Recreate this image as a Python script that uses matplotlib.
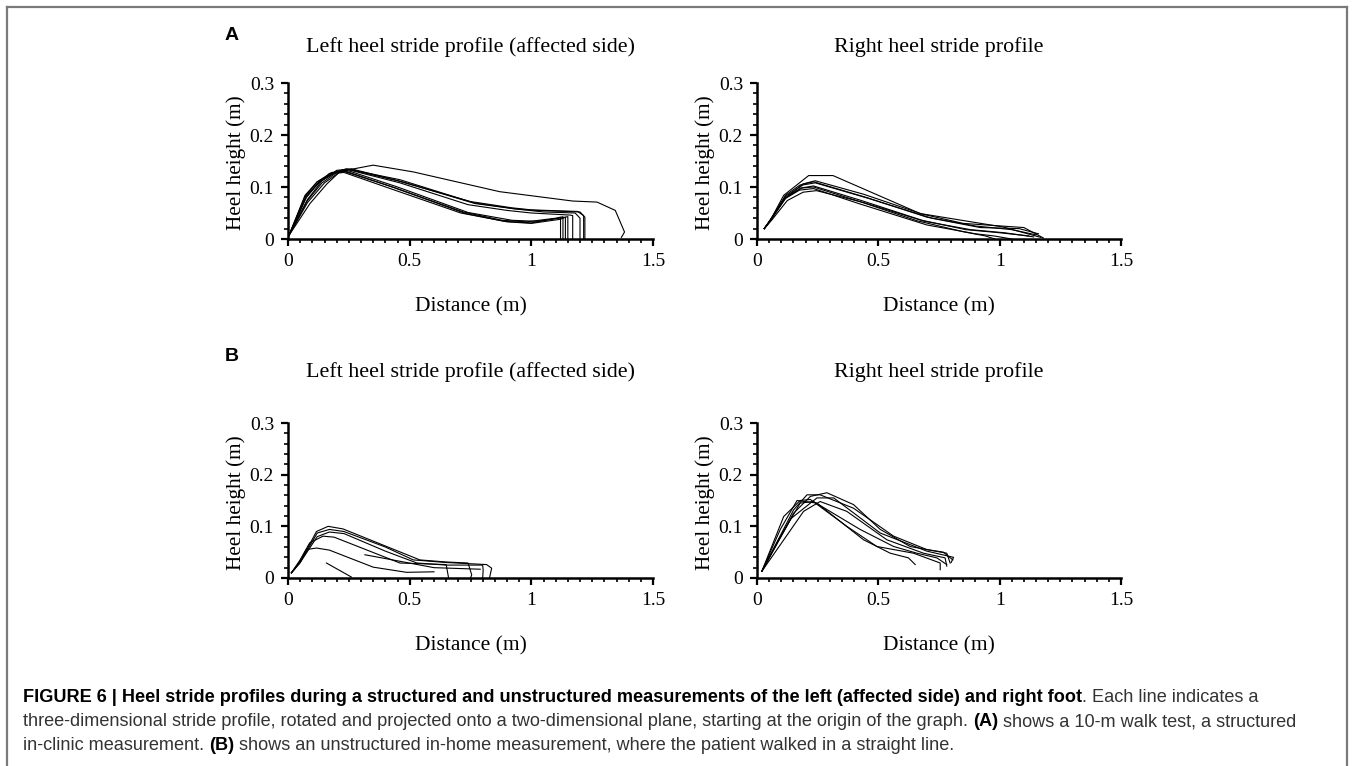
import matplotlib
matplotlib.use("Agg")
import matplotlib.pyplot as plt
from matplotlib.ticker import MultipleLocator
from matplotlib.lines import Line2D

# ---- data: heel stride profiles, (distance m, height m) per stride ----
a_left_x = [
    [0.004, 0.075, 0.11, 0.17, 0.35, 0.515, 0.87, 1.17, 1.27, 1.345, 1.383, 1.37],
    [0.004, 0.07, 0.12, 0.19, 0.24, 0.45, 0.75, 0.92, 1.0, 1.19, 1.215, 1.215],
    [0.004, 0.075, 0.13, 0.2, 0.25, 0.46, 0.76, 0.93, 1.02, 1.2, 1.22, 1.22],
    [0.004, 0.08, 0.14, 0.2, 0.26, 0.47, 0.77, 0.95, 1.05, 1.18, 1.2, 1.2],
    [0.004, 0.08, 0.15, 0.21, 0.25, 0.46, 0.74, 0.9, 1.0, 1.16, 1.17, 1.17],
    [0.004, 0.07, 0.12, 0.18, 0.23, 0.43, 0.72, 0.88, 0.98, 1.1, 1.12, 1.12],
    [0.004, 0.075, 0.13, 0.19, 0.23, 0.42, 0.71, 0.89, 1.0, 1.11, 1.13, 1.13],
    [0.004, 0.08, 0.14, 0.2, 0.24, 0.44, 0.73, 0.9, 1.0, 1.12, 1.14, 1.14],
    [0.004, 0.09, 0.16, 0.21, 0.25, 0.45, 0.74, 0.92, 1.02, 1.13, 1.15, 1.15],
]
a_left_y = [
    [0.007, 0.084, 0.10, 0.126, 0.142, 0.129, 0.091, 0.073, 0.071, 0.055, 0.0135, 0.003],
    [0.007, 0.082, 0.11, 0.128, 0.135, 0.112, 0.072, 0.060, 0.056, 0.053, 0.045, 0.0],
    [0.007, 0.08, 0.112, 0.13, 0.134, 0.114, 0.070, 0.058, 0.055, 0.052, 0.042, 0.0],
    [0.007, 0.076, 0.112, 0.132, 0.135, 0.11, 0.068, 0.057, 0.052, 0.05, 0.04, 0.0],
    [0.007, 0.07, 0.108, 0.128, 0.133, 0.108, 0.066, 0.055, 0.050, 0.046, 0.045, 0.0],
    [0.007, 0.084, 0.11, 0.128, 0.13, 0.1, 0.052, 0.036, 0.033, 0.04, 0.042, 0.0],
    [0.007, 0.08, 0.11, 0.126, 0.128, 0.097, 0.05, 0.034, 0.031, 0.04, 0.043, 0.0],
    [0.007, 0.074, 0.108, 0.128, 0.13, 0.098, 0.049, 0.033, 0.030, 0.038, 0.042, 0.0],
    [0.007, 0.068, 0.106, 0.128, 0.131, 0.1, 0.051, 0.036, 0.034, 0.041, 0.043, 0.0],
]

a_right_x = [
    [0.03, 0.055, 0.11, 0.213, 0.313, 0.672, 1.015, 1.17],
    [0.03, 0.055, 0.117, 0.178, 0.233, 0.45, 0.7, 0.9, 1.05, 1.15],
    [0.03, 0.055, 0.117, 0.19, 0.24, 0.46, 0.72, 0.92, 1.08, 1.16],
    [0.03, 0.055, 0.12, 0.19, 0.24, 0.44, 0.68, 0.85, 1.1, 1.18],
    [0.03, 0.05, 0.115, 0.18, 0.233, 0.43, 0.68, 0.86, 1.0, 1.12],
    [0.03, 0.055, 0.11, 0.175, 0.233, 0.42, 0.7, 0.9, 0.975, 1.05],
    [0.03, 0.055, 0.12, 0.185, 0.233, 0.41, 0.66, 0.85, 0.94, 0.98],
    [0.03, 0.06, 0.125, 0.19, 0.245, 0.44, 0.69, 0.88, 1.02, 1.14],
]
a_right_y = [
    [0.02, 0.036, 0.084, 0.122, 0.122, 0.049, 0.023, 0.003],
    [0.02, 0.036, 0.084, 0.104, 0.11, 0.08, 0.042, 0.025, 0.018, 0.008],
    [0.02, 0.036, 0.082, 0.104, 0.108, 0.078, 0.04, 0.022, 0.02, 0.01],
    [0.02, 0.036, 0.08, 0.106, 0.112, 0.086, 0.048, 0.03, 0.022, 0.002],
    [0.02, 0.034, 0.078, 0.098, 0.102, 0.074, 0.036, 0.018, 0.012, 0.006],
    [0.02, 0.035, 0.076, 0.094, 0.097, 0.068, 0.027, 0.01, 0.006, 0.0],
    [0.02, 0.035, 0.08, 0.098, 0.1, 0.074, 0.035, 0.014, 0.006, 0.0],
    [0.02, 0.036, 0.074, 0.09, 0.093, 0.07, 0.034, 0.018, 0.012, 0.004],
]

b_left_x = [
    [0.014, 0.048, 0.117, 0.165, 0.226, 0.405, 0.542, 0.65, 0.74, 0.755, 0.75],
    [0.014, 0.05, 0.12, 0.17, 0.23, 0.4, 0.515, 0.65, 0.816, 0.837, 0.828],
    [0.014, 0.05, 0.12, 0.17, 0.23, 0.4, 0.53, 0.65, 0.8, 0.802, 0.8],
    [0.014, 0.05, 0.089, 0.144, 0.19, 0.46, 0.65, 0.66],
    [0.014, 0.045, 0.075, 0.117, 0.17, 0.35, 0.487, 0.6],
    [0.158, 0.26],
    [0.316, 0.43, 0.6, 0.79],
]
b_left_y = [
    [0.01, 0.029, 0.09, 0.1, 0.095, 0.061, 0.035, 0.031, 0.029, 0.006, 0.0],
    [0.01, 0.03, 0.087, 0.094, 0.09, 0.06, 0.035, 0.03, 0.026, 0.019, 0.0],
    [0.01, 0.03, 0.08, 0.089, 0.086, 0.052, 0.029, 0.025, 0.025, 0.015, 0.0],
    [0.01, 0.035, 0.068, 0.081, 0.079, 0.029, 0.026, 0.0],
    [0.01, 0.03, 0.055, 0.058, 0.054, 0.021, 0.011, 0.012],
    [0.029, 0.002],
    [0.045, 0.035, 0.02, 0.017],
]

b_right_x = [
    [0.02, 0.096, 0.165, 0.247, 0.439, 0.549, 0.624, 0.652],
    [0.02, 0.11, 0.178, 0.22, 0.37, 0.494, 0.645, 0.755, 0.755],
    [0.02, 0.151, 0.206, 0.26, 0.398, 0.563, 0.7, 0.768, 0.807],
    [0.02, 0.15, 0.22, 0.288, 0.398, 0.508, 0.631, 0.782, 0.796],
    [0.02, 0.192, 0.26, 0.37, 0.535, 0.686, 0.775, 0.782],
    [0.02, 0.14, 0.247, 0.316, 0.508, 0.7, 0.81, 0.8],
    [0.02, 0.082, 0.178, 0.233, 0.425, 0.563, 0.659, 0.741, 0.782],
]
b_right_y = [
    [0.013, 0.094, 0.15, 0.145, 0.074, 0.048, 0.039, 0.026],
    [0.013, 0.119, 0.15, 0.152, 0.1, 0.061, 0.048, 0.029, 0.016],
    [0.013, 0.132, 0.161, 0.161, 0.135, 0.081, 0.055, 0.05, 0.035],
    [0.013, 0.125, 0.158, 0.165, 0.142, 0.094, 0.061, 0.048, 0.029],
    [0.013, 0.129, 0.148, 0.129, 0.074, 0.048, 0.039, 0.023],
    [0.013, 0.115, 0.155, 0.155, 0.087, 0.052, 0.04, 0.03],
    [0.013, 0.068, 0.145, 0.148, 0.094, 0.061, 0.048, 0.039, 0.026],
]

panel_titles = ["Left heel stride profile (affected side)", "Right heel stride profile"]

W, H = 1352, 766
fig = plt.figure(figsize=(W / 100, H / 100), dpi=100)
serif = "Liberation Serif"
sans = "Liberation Sans"


def px(x, y):
    return x / W, 1 - y / H


def make_axes(left, top, right, bottom):
    ax = fig.add_axes([left / W, 1 - bottom / H, (right - left) / W, (bottom - top) / H])
    ax.set_xlim(0, 1.5)
    ax.set_ylim(0, 0.3)
    for s in ["top", "right"]:
        ax.spines[s].set_visible(False)
    for s in ["left", "bottom"]:
        ax.spines[s].set_linewidth(1.8)
    ax.xaxis.set_minor_locator(MultipleLocator(0.05))
    ax.yaxis.set_minor_locator(MultipleLocator(0.02))
    ax.set_xticks([0, 0.5, 1, 1.5])
    ax.set_xticklabels(["0", "0.5", "1", "1.5"])
    ax.set_yticks([0, 0.1, 0.2, 0.3])
    ax.set_yticklabels(["0", "0.1", "0.2", "0.3"])
    ax.tick_params(which="major", direction="out", length=5, width=1.6, labelsize=14, pad=5)
    ax.tick_params(which="minor", direction="out", length=3, width=1.2)
    for lab in ax.get_xticklabels() + ax.get_yticklabels():
        lab.set_fontfamily(serif)
    return ax


def draw(ax, xs, ys):
    for x, y in zip(xs, ys):
        ax.plot(x, y, color="black", lw=0.8, clip_on=False)


axes_box = [
    (288, 83, 653, 239, a_left_x, a_left_y, 0),
    (757, 83, 1121, 239, a_right_x, a_right_y, 1),
    (288, 423, 653, 578, b_left_x, b_left_y, 0),
    (757, 423, 1121, 578, b_right_x, b_right_y, 1),
]
for l, t, r, b, xs, ys, k in axes_box:
    ax = make_axes(l, t, r, b)
    draw(ax, xs, ys)
    cx = (l + r) / 2
    title_y = t - 36 if t < 200 else t - 51
    fig.text(*px(cx, title_y), panel_titles[k], family=serif, fontsize=15.8,
             ha="center", va="center")
    fig.text(*px(cx, b + 68), "Distance (m)", family=serif, fontsize=15.5,
             ha="center", va="center")
    fig.text(*px(l - 52, (t + b) / 2 + 2), "Heel height (m)", family=serif, fontsize=15.3,
             ha="center", va="center", rotation=90)

fig.text(*px(232, 35), "A", family=sans, fontsize=14, fontweight="bold", ha="center", va="center")
fig.text(*px(232, 357), "B", family=sans, fontsize=14, fontweight="bold", ha="center", va="center")

# frame around the figure
frame = dict(color="#7a7a7a", lw=1.6, transform=fig.transFigure)
fig.add_artist(Line2D([7 / W, 7 / W], [0, 1 - 7 / H], **frame))
fig.add_artist(Line2D([7 / W, 1347 / W], [1 - 7 / H, 1 - 7 / H], **frame))
fig.add_artist(Line2D([1347 / W, 1347 / W], [0, 1 - 7 / H], **frame))

# caption with mixed bold / regular runs
caption = [
    [("FIGURE 6 | Heel stride profiles during a structured and unstructured measurements of the left (affected side) and right foot", True),
     (". Each line indicates a", False)],
    [("three-dimensional stride profile, rotated and projected onto a two-dimensional plane, starting at the origin of the graph. ", False),
     ("(A)", True), (" shows a 10-m walk test, a structured", False)],
    [("in-clinic measurement. ", False), ("(B)", True),
     (" shows an unstructured in-home measurement, where the patient walked in a straight line.", False)],
]
cap_y = [697, 722, 746]
fig.canvas.draw()
renderer = fig.canvas.get_renderer()
for line, yy in zip(caption, cap_y):
    x0 = 23
    for txt, bold in line:
        t = fig.text(*px(x0, yy), txt, family=sans, fontsize=13.1,
                     fontweight="bold" if bold else "normal",
                     color="black" if bold else "#333333", ha="left", va="center")
        bb = t.get_window_extent(renderer=renderer)
        x0 += bb.width

fig.savefig("out.png", dpi=100)
